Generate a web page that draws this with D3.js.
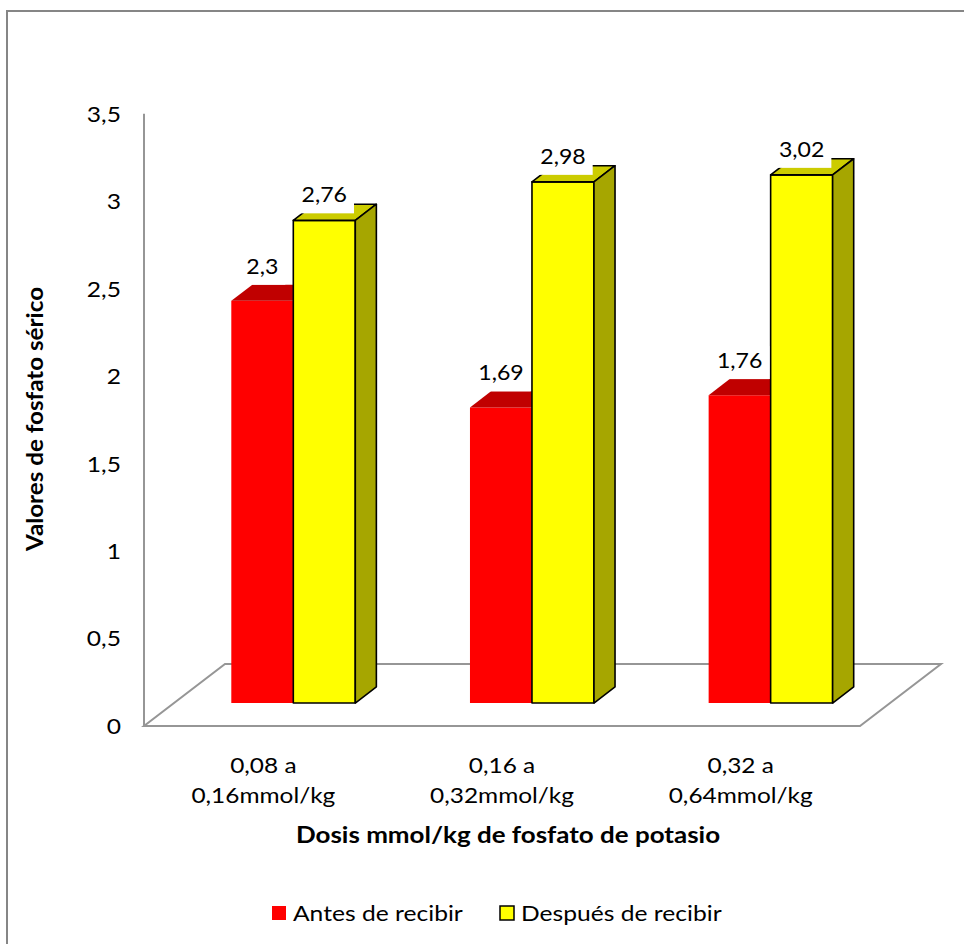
<!DOCTYPE html>
<html>
<head>
<meta charset="utf-8">
<script src="https://cdn.jsdelivr.net/npm/d3@7"></script>
<style>
  html, body { margin: 0; padding: 0; background: #fff; }
  svg { display: block; font-family: Lato, "Noto Sans", sans-serif; }
</style>
</head>
<body>
<svg id="chart" width="964" height="944"></svg>
<script>
// Dosage groups (two-line labels) and the two measurement series
const categories = ["0,08 a|0,16mmol/kg", "0,16 a|0,32mmol/kg", "0,32 a|0,64mmol/kg"];
const seriesNames = ["Antes de recibir", "Después de recibir"];
const antes = [2.3, 1.69, 1.76];
const despues = [2.76, 2.98, 3.02];
const yTicks = [0, 0.5, 1, 1.5, 2, 2.5, 3, 3.5];

const xTitle = "Dosis mmol/kg de fosfato de potasio";
const yTitle = "Valores de fosfato sérico";

const svg = d3.select("#chart");
const fmt = v => String(v).replace(".", ",");

// text helper: slightly widened glyphs, anchored at (x, y)
function label(parent, x, y, str, opt = {}) {
  const sx = opt.sx || 1.1;
  const rot = opt.rotate ? ` rotate(${opt.rotate})` : "";
  return parent.append("text")
    .attr("transform", `translate(${x},${y})${rot} scale(${sx},1)`)
    .attr("text-anchor", opt.anchor || "middle")
    .attr("dy", opt.dy || null)
    .attr("font-size", opt.size || 22)
    .attr("font-weight", opt.bold ? "bold" : null)
    .attr("fill", "#000")
    .text(str);
}

// Oblique 3D projection: depth moves points up and to the right
const DX = 81, DY = -62;
const front = 726, left = 144, right = 860;
const depthFront = 0.37, depthBack = 0.63;   // bar slab position in floor depth
const barW = 62;

const x0 = d3.scaleBand().domain(categories).range([left, right]);
const y = d3.scaleLinear().domain([0, 3.5]).range([front, front - 3.5 * 174.9]);

const series = seriesNames.map((name, i) => ({
  name,
  values: i === 0 ? antes : despues,
  face: i === 0 ? "#FF0000" : "#FFFF00",
  top: i === 0 ? "#C00000" : "#CCCC00",
  side: i === 0 ? "#A00000" : "#A6A600",
  stroke: i === 0 ? "none" : "#000"
}));

// outer frame
svg.append("rect").attr("x", 7).attr("y", 11).attr("width", 980).attr("height", 960)
  .attr("fill", "#fff").attr("stroke", "#868686").attr("stroke-width", 2);

// floor
const floorPts = [[left, front], [right, front], [right + DX, front + DY], [left + DX, front + DY]];
svg.append("path")
  .attr("d", d3.line()(floorPts) + "Z")
  .attr("fill", "none").attr("stroke", "#969696").attr("stroke-width", 2);

// value axis line (front-left edge)
svg.append("line")
  .attr("x1", left).attr("x2", left)
  .attr("y1", y(0)).attr("y2", y(3.5))
  .attr("stroke", "#969696").attr("stroke-width", 2);

// tick labels
const tg = svg.append("g");
yTicks.forEach(t => label(tg, 121, y(t), fmt(t), { anchor: "end", dy: "0.36em", size: 22, sx: 1.12 }));

// bars
const x1 = d3.scaleBand().domain(seriesNames).range([-barW, barW]);
const bars = svg.append("g");
const labels = [];
categories.forEach((cat, ci) => {
  const cx = x0(cat) + x0.bandwidth() / 2 + DX * depthFront;
  const yBase = DY * depthFront;
  const ddx = DX * (depthBack - depthFront), ddy = DY * (depthBack - depthFront);
  series.forEach((s, si) => {
    const v = s.values[ci];
    const xl = cx + x1(s.name), xr = xl + barW;
    const yt = y(v) + yBase, yb = y(0) + yBase;
    const g = bars.append("g")
      .attr("stroke", s.stroke).attr("stroke-width", 1.6).attr("stroke-linejoin", "round");
    // front face
    g.append("path").attr("fill", s.face)
      .attr("d", d3.line()([[xl, yb], [xr, yb], [xr, yt], [xl, yt]]) + "Z");
    // top face
    g.append("path").attr("fill", s.top)
      .attr("d", d3.line()([[xl, yt], [xr, yt], [xr + ddx, yt + ddy], [xl + ddx, yt + ddy]]) + "Z");
    // right side face
    g.append("path").attr("fill", s.side)
      .attr("d", d3.line()([[xr, yb], [xr + ddx, yb + ddy], [xr + ddx, yt + ddy], [xr, yt]]) + "Z");
    const base = si === 0 ? yt + ddy - 11 : yt - 18;
    labels.push({ v, x: (xl + xr) / 2, y: base });
  });
});

// data labels on a white backing box
const lg = svg.append("g");
labels.forEach(d => {
  const t = label(lg, d.x, d.y, fmt(d.v), { size: 22, sx: 1.05 });
  const w = t.node().getBBox().width * 1.05;
  lg.insert("rect", () => t.node())
    .attr("x", d.x - w / 2 - 7).attr("y", d.y - 22)
    .attr("width", w + 14).attr("height", 33)
    .attr("fill", "#fff");
});

// category labels
const cg = svg.append("g");
categories.forEach(cat => {
  const cx = x0(cat) + x0.bandwidth() / 2;
  cat.split("|").forEach((ln, i) => label(cg, cx, 773 + i * 30, ln, { size: 22, sx: 1.11 }));
});

// axis titles
label(svg, 508, 843, xTitle, { size: 22, bold: true, sx: 1.18 });
label(svg, 43, 419, yTitle, { size: 22, bold: true, sx: 1.1, rotate: -90 });

// legend
const legendItems = [
  { name: seriesNames[0], x: 272, fill: "#FF0000", stroke: "none" },
  { name: seriesNames[1], x: 500, fill: "#FFFF00", stroke: "#000" }
];
const leg = svg.append("g");
legendItems.forEach(it => {
  leg.append("rect").attr("x", it.x).attr("y", 906).attr("width", 14).attr("height", 14)
    .attr("fill", it.fill).attr("stroke", it.stroke).attr("stroke-width", 1.5);
  label(leg, it.x + 21, 921, it.name, { anchor: "start", size: 22, sx: 1.12 });
});
</script>
</body>
</html>
